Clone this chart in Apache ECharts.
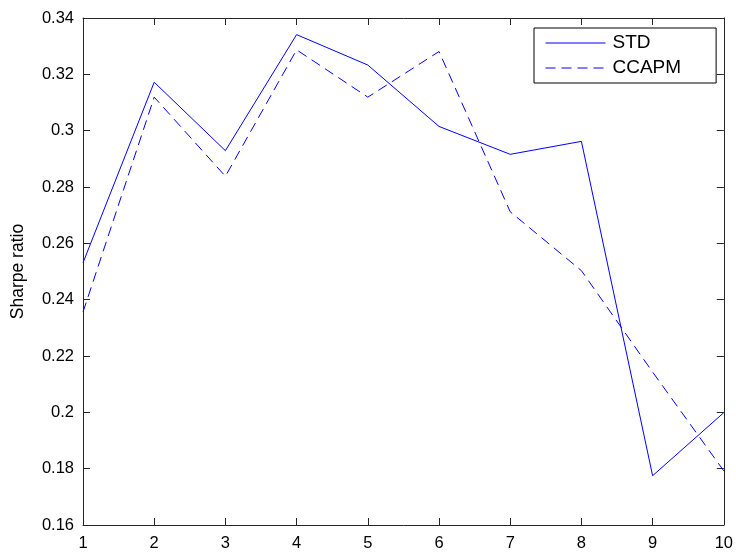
<!DOCTYPE html>
<html>
<head>
<meta charset="utf-8">
<script src="https://cdn.jsdelivr.net/npm/echarts@6/dist/echarts.min.js"></script>
<style>
  html, body { margin: 0; padding: 0; background: #fff; }
  #chart { width: 736px; height: 552px; }
</style>
</head>
<body>
<div id="chart"></div>
<script>
// Portfolio index (1..10) and Sharpe ratios of the two strategies
const portfolios = [1, 2, 3, 4, 5, 6, 7, 8, 9, 10];
const stdSharpe   = [0.2531, 0.3172, 0.2929, 0.3341, 0.3233, 0.3015, 0.2916, 0.2962, 0.1775, 0.1999];
const ccapmSharpe = [0.2356, 0.3119, 0.2838, 0.3287, 0.3119, 0.3281, 0.2712, 0.2503, 0.2143, 0.1792];

const FONT = 'Liberation Sans, Arial, Helvetica, sans-serif';
const AXIS_COLOR = '#262626';

const pairs = (xs, ys) => xs.map((x, i) => [x, ys[i]]);

const chart = echarts.init(document.getElementById('chart'), null, { renderer: 'canvas' });

const boxAxis = {
  axisLine: { show: true, onZero: false, lineStyle: { color: AXIS_COLOR, width: 1 } },
  axisTick: { show: true, inside: true, length: 7, lineStyle: { color: AXIS_COLOR, width: 1 } },
  splitLine: { show: false }
};

chart.setOption({
  animation: false,
  backgroundColor: '#ffffff',
  grid: { left: 83, right: 10, top: 18, bottom: 26, containLabel: false },
  legend: {
    orient: 'vertical',
    left: 534,
    top: 28,
    padding: [4, 35, 4, 11],
    itemGap: 3,
    itemWidth: 60,
    itemHeight: 14,
    borderColor: '#000000',
    borderWidth: 1,
    backgroundColor: '#ffffff',
    // plain line samples, no point markers
    itemStyle: { opacity: 0 },
    lineStyle: { width: 1 },
    textStyle: { fontFamily: FONT, fontSize: 19, color: '#000', lineHeight: 22, padding: [0, 0, 0, 2] },
    data: ['STD', 'CCAPM']
  },
  xAxis: [
    Object.assign({
      type: 'value', position: 'bottom', min: 1, max: 10, interval: 1,
      axisLabel: { fontFamily: FONT, fontSize: 16.5, color: '#000', margin: 10 }
    }, boxAxis),
    Object.assign({
      type: 'value', position: 'top', min: 1, max: 10, interval: 1,
      axisLabel: { show: false }
    }, boxAxis)
  ],
  yAxis: [
    Object.assign({
      type: 'value', position: 'left', min: 0.16, max: 0.34, interval: 0.02,
      name: 'Sharpe ratio', nameLocation: 'middle', nameGap: 56,
      nameTextStyle: { fontFamily: FONT, fontSize: 17.5, color: '#000' },
      axisLabel: { fontFamily: FONT, fontSize: 16.5, color: '#000', margin: 9,
        formatter: v => String(parseFloat(v.toFixed(2))) }
    }, boxAxis),
    Object.assign({
      type: 'value', position: 'right', min: 0.16, max: 0.34, interval: 0.02,
      axisLabel: { show: false }
    }, boxAxis)
  ],
  series: [
    {
      name: 'STD', type: 'line', xAxisIndex: 0, yAxisIndex: 0,
      data: pairs(portfolios, stdSharpe),
      symbol: 'none',
      lineStyle: { color: '#0000ff', width: 1, type: 'solid' },
      itemStyle: { color: '#0000ff' }
    },
    {
      name: 'CCAPM', type: 'line', xAxisIndex: 0, yAxisIndex: 0,
      data: pairs(portfolios, ccapmSharpe),
      symbol: 'none',
      lineStyle: { color: '#0000ff', width: 1, type: [10, 6] },
      itemStyle: { color: '#0000ff' }
    }
  ]
});
</script>
</body>
</html>
